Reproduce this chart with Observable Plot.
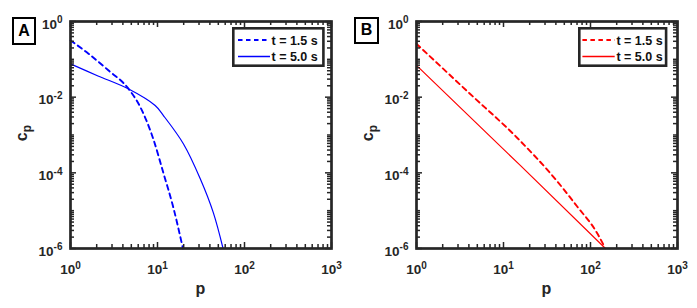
<!DOCTYPE html>
<html>
<head>
<meta charset="utf-8">
<script src="https://cdn.jsdelivr.net/npm/d3@7"></script>
<script src="https://cdn.jsdelivr.net/npm/@observablehq/plot@0.6"></script>
<style>
  body { margin: 0; background: #fff; }
  #wrap { position: relative; width: 697px; height: 308px; display: flex; font-family: "Liberation Sans", Arial, sans-serif; }
  #wrap svg { display: block; }
  .tag { position: absolute; box-sizing: border-box; border: 2.8px solid #000; background: #fff; font-weight: bold; font-size: 16px; color: #000; display: flex; align-items: center; justify-content: center; }
  .leg { position: absolute; }
</style>
</head>
<body>
<div id="wrap"></div>
<script>
// ---------- data ----------
const panelNames = ["A", "B"];
const seriesNames = ["t = 1.5 s", "t = 5.0 s"];

// Panel A, t = 1.5 s (dashed)
const pA15 = [1, 1.61, 2.72, 4.61, 6.31, 9.02, 11.7, 15.1, 19.6];
const cA15 = [0.316, 0.141, 0.0513, 0.017, 0.0056, 7.4e-4, 9.8e-5, 1.29e-5, 1e-6];
// Panel A, t = 5.0 s (solid)
const pA50 = [1, 2.07, 4.6, 9.4, 11.7, 19.9, 31.0, 43.8, 56.7];
const cA50 = [0.076, 0.0364, 0.0166, 0.006, 0.00326, 5.8e-4, 7.0e-5, 8.9e-6, 1e-6];
// Panel B, t = 1.5 s (dashed)
const pB15 = [1, 3.98, 14.6, 37.9, 70.3, 119, 146];
const cB15 = [0.257, 0.0132, 8.1e-4, 7.6e-5, 1.29e-5, 2.57e-6, 1.07e-6];
// Panel B, t = 5.0 s (solid)
const pB50 = [1, 7.89, 15.7, 148.6];
const cB50 = [0.069, 7.1e-4, 1.55e-4, 1e-6];

const xTickValues = [1, 10, 100, 1000];
const yTickValues = [1e-6, 1e-4, 1e-2, 1];
const xTickLabels = ["10^0", "10^1", "10^2", "10^3"];
const yTickLabels = ["10^-6", "10^-4", "10^-2", "10^0"];

const colors = { A: "#0000ff", B: "#ff0000" };

// minor tick positions for a log axis (2..9 x 10^k, plus unlabelled decades)
function logMinors(lo, hi, majors) {
  const out = [];
  for (let e = lo; e < hi; e++) {
    for (let m = 1; m <= 9; m++) {
      const v = m * Math.pow(10, e);
      if (!majors.some(t => Math.abs(t - v) / v < 1e-9)) out.push(v);
    }
  }
  return out;
}
const xMinor = logMinors(0, 3, xTickValues);
const yMinor = logMinors(-6, 0, yTickValues);

const ink = "#262626";
const H = 308, MT = 21, MB = 60;

function makePanel(name, dashP, dashC, solidP, solidC, width, ml, mr, solidCurve) {
  const color = colors[name];
  const dash = dashP.map((p, i) => ({ p, c: dashC[i] }));
  const solid = solidP.map((p, i) => ({ p, c: solidC[i] }));
  const xl = new Map(xTickValues.map((v, i) => [v, xTickLabels[i]]));
  const yl = new Map(yTickValues.map((v, i) => [v, yTickLabels[i]]));
  const iw = width - ml - mr, ih = H - MT - MB;
  const ts = { stroke: ink, strokeWidth: 1.5 };
  const xt = (vals, len) => [
    Plot.ruleX(vals, { x: d => d, insetTop: ih - len, ...ts }),
    Plot.ruleX(vals, { x: d => d, insetBottom: ih - len, ...ts })
  ];
  const yt = (vals, len) => [
    Plot.ruleY(vals, { y: d => d, insetRight: iw - len, ...ts }),
    Plot.ruleY(vals, { y: d => d, insetLeft: iw - len, ...ts })
  ];
  const svg = Plot.plot({
    width, height: H,
    marginLeft: ml, marginRight: mr, marginTop: MT, marginBottom: MB,
    style: { fontFamily: "'Liberation Sans', Arial, sans-serif", fontSize: "13.5px", fontWeight: "bold", color: ink, background: "transparent", overflow: "visible" },
    x: { type: "log", domain: [1, 1000] },
    y: { type: "log", domain: [1e-6, 1] },
    marks: [
      Plot.line(dash, { x: "p", y: "c", stroke: color, strokeWidth: 1.9, strokeDasharray: "5,4", curve: "monotone-x" }),
      Plot.line(solid, { x: "p", y: "c", stroke: color, strokeWidth: 1.2, curve: solidCurve }),
      Plot.axisX(xTickValues, { anchor: "bottom", tickSize: 0, tickPadding: 16, label: null, tickFormat: d => xl.get(d), fill: ink }),
      Plot.axisY(yTickValues, { anchor: "left", tickSize: 0, tickPadding: 8, dy: 3, label: null, tickFormat: d => yl.get(d), fill: ink }),
      ...xt(xTickValues, 6), ...xt(xMinor, 4),
      ...yt(yTickValues, 6), ...yt(yMinor, 4),
      Plot.frame({ stroke: ink, strokeWidth: 2.7 })
    ]
  });
  // superscript exponents on tick labels
  d3.select(svg).selectAll("text").each(function () {
    const m = (this.textContent || "").match(/^10\^(-?\d+)$/);
    if (!m) return;
    const s = d3.select(this);
    s.text("10");
    s.append("tspan").attr("dy", "-5.5").attr("font-size", "10px").text(m[1]);
  });
  // axis titles
  const sel = d3.select(svg);
  const cx = ml + iw / 2;
  sel.append("text").attr("x", cx).attr("y", 294).attr("text-anchor", "middle")
    .attr("font-size", "16px").attr("font-weight", "bold").attr("fill", ink).text("p");
  const ylab = sel.append("text").attr("transform", `translate(${ml - 43},133) rotate(-90)`)
    .attr("text-anchor", "middle").attr("font-size", "16px").attr("font-weight", "bold").attr("fill", ink);
  ylab.append("tspan").text("c");
  ylab.append("tspan").attr("dy", "4").attr("font-size", "12px").text("p");
  return svg;
}

const wrap = document.getElementById("wrap");
wrap.append(makePanel("A", pA15, cA15, pA50, cA50, 348, 70, 17, "catmull-rom"));
wrap.append(makePanel("B", pB15, cB15, pB50, cB50, 349, 68, 20, "linear"));

// panel tags
[["A", 11.7, 16.7, 24.5, 28.5], ["B", 354, 17, 25, 26.5]].forEach(([n, l, t, w, h]) => {
  const d = document.createElement("div");
  d.className = "tag";
  Object.assign(d.style, { left: l + "px", top: t + "px", width: w + "px", height: h + "px" });
  d.textContent = n;
  wrap.append(d);
});

// legends
function legend(name, left, top, w, h, lx0, lx1, tx) {
  const color = colors[name];
  const s = d3.select(wrap).append("svg").attr("class", "leg")
    .style("left", left + "px").style("top", top + "px")
    .attr("width", w).attr("height", h);
  s.append("rect").attr("x", 1.3).attr("y", 1.3).attr("width", w - 2.6).attr("height", h - 2.6)
    .attr("fill", "#fff").attr("stroke", ink).attr("stroke-width", 2.6);
  const rows = [{ y: 13, dash: "4.5,3.5" }, { y: 29.5, dash: null }];
  rows.forEach((r, i) => {
    s.append("line").attr("x1", lx0).attr("x2", lx1).attr("y1", r.y).attr("y2", r.y)
      .attr("stroke", color).attr("stroke-width", i === 0 ? 1.9 : 1.5)
      .attr("stroke-dasharray", r.dash);
    s.append("text").attr("x", tx).attr("y", r.y + 4.6)
      .attr("font-family", "'Liberation Sans', Arial, sans-serif").attr("font-weight", "bold")
      .attr("font-size", "12.5px").attr("fill", "#111").text(seriesNames[i]);
  });
}
legend("A", 232.3, 26.7, 92.7, 40, 6, 38, 39.5);
legend("B", 578.3, 26.7, 89.4, 40, 4.4, 36.7, 38.4);
</script>
</body>
</html>
